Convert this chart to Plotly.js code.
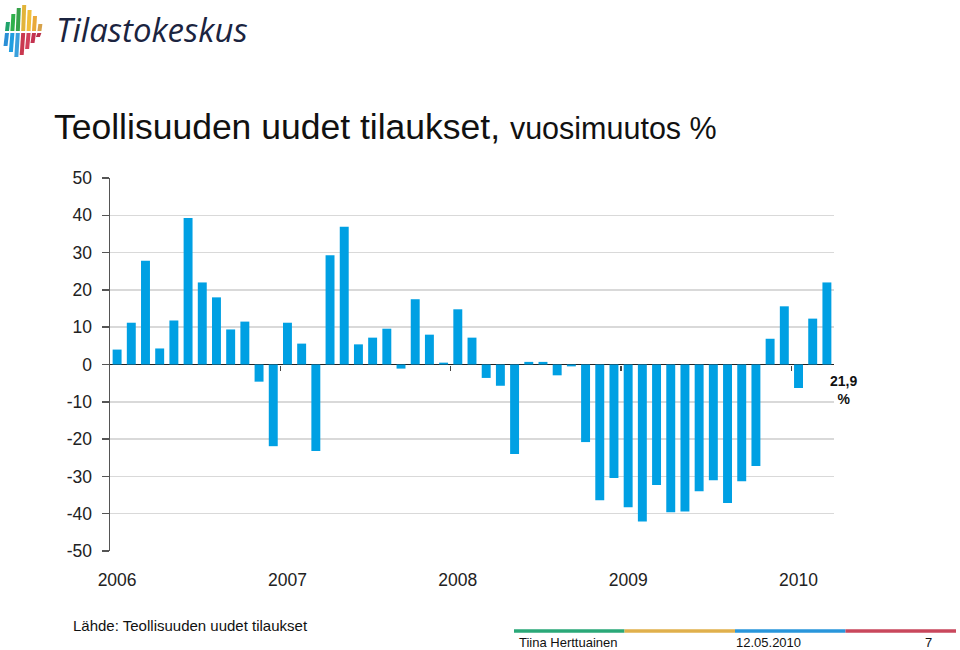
<!DOCTYPE html>
<html>
<head>
<meta charset="utf-8">
<script src="https://cdn.plot.ly/plotly-3.0.1.min.js"></script>
<style>
  html, body { margin: 0; padding: 0; background: #fff; }
  #chart { width: 960px; height: 650px; }
</style>
</head>
<body>
<div id="chart"></div>
<script>
// vuosimuutos %, kuukausittain 1/2006 - 3/2010
const changes = [
  4.0, 11.2, 27.8, 4.3, 11.8, 39.3, 22.0, 18.0, 9.4, 11.5, -4.6, -21.9,
  11.2, 5.6, -23.2, 29.3, 36.9, 5.4, 7.2, 9.6, -1.1, 17.5, 8.0, 0.5,
  14.8, 7.2, -3.6, -5.7, -24.0, 0.7, 0.7, -2.9, -0.5, -20.8, -36.4, -30.4,
  -38.3, -42.1, -32.3, -39.6, -39.4, -34.0, -31.0, -37.1, -31.3, -27.2, 6.9, 15.6,
  -6.3, 12.3, 22.0
]
const years = ['2006', '2007', '2008', '2009', '2010']
const yTicks = [50, 40, 30, 20, 10, 0, -10, -20, -30, -40, -50]
const yTickText = ['50', '40', '30', '20', '10', '0', '-10', '-20', '-30', '-40', '-50']
const lastLabel = '21,9<br>%'

const monthIdx = changes.map((v, i) => i)
const yearStart = years.map((y, i) => i * 12)
const yearBoundary = years.slice(1).map((y, i) => (i + 1) * 12 - 0.5)

// plot area in pixels, used to place things outside it
const L = 110, R = 834, T = 178, B = 551
const px = x => (x - L) / (R - L)
const py = y => (B - y) / (B - T)

const font = 'Arial, "Liberation Sans", sans-serif'

const bars = {
  x: monthIdx,
  y: changes,
  type: 'bar',
  width: 0.63,
  marker: { color: '#00a0e3' },
  hoverinfo: 'y'
}

// dummy trace for the year ticks on the zero line
const tickAxis = {
  x: [0],
  y: [0],
  xaxis: 'x2',
  type: 'scatter',
  mode: 'none',
  showlegend: false,
  hoverinfo: 'skip'
}

// logo stripes
const logoShapes = []
const stripeColorsTop = ['#1fa36b', '#2fb04a', '#37a24a', '#e2b43a', '#f0bf3c', '#e9a93a', '#d7a24a']
const stripeColorsBot = ['#2b8fd6', '#1f9ee0', '#3aa0dc', '#c9384f', '#d2405a', '#c43350', '#b9314c']
for (let i = 0; i < 7; i++) {
  const x0 = 4 + i * 5.4
  const topY = [22, 14, 8, 5, 10, 16, 24][i]
  const botY = [46, 52, 57, 55, 49, 43, 37][i]
  logoShapes.push({
    type: 'path', xref: 'paper', yref: 'paper', line: { width: 0 },
    fillcolor: stripeColorsTop[i],
    path: `M ${px(x0 + 2)} ${py(topY)} L ${px(x0 + 6)} ${py(topY)} L ${px(x0 + 5)} ${py(31)} L ${px(x0 + 1)} ${py(31)} Z`
  })
  logoShapes.push({
    type: 'path', xref: 'paper', yref: 'paper', line: { width: 0 },
    fillcolor: stripeColorsBot[i],
    path: `M ${px(x0 + 1)} ${py(33)} L ${px(x0 + 5)} ${py(33)} L ${px(x0 + 3.5)} ${py(botY)} L ${px(x0 - 0.5)} ${py(botY)} Z`
  })
}

const footerColors = ['#2aa878', '#e0b04c', '#2996db', '#c9475c']
const footerShapes = footerColors.map((c, i) => ({
  type: 'line', xref: 'paper', yref: 'paper',
  x0: px(514 + i * 110.5), x1: px(514 + (i + 1) * 110.5),
  y0: py(631), y1: py(631),
  line: { color: c, width: 3.5 }
}))

const layout = {
  width: 960,
  height: 650,
  margin: { l: L, r: 960 - R, t: T, b: 650 - B },
  paper_bgcolor: '#fff',
  plot_bgcolor: '#fff',
  showlegend: false,
  font: { family: font, color: '#222', size: 17 },
  title: {
    text: 'Teollisuuden uudet tilaukset, <span style="font-size:30.5px">vuosimuutos %</span>',
    font: { family: font, size: 35.5, color: '#111' },
    xref: 'container', yref: 'container',
    x: 54 / 960, xanchor: 'left',
    y: 1 - 127 / 650, yanchor: 'middle'
  },
  xaxis: {
    range: [-0.5, changes.length - 0.5],
    tickmode: 'array',
    tickvals: yearStart,
    ticktext: years,
    ticks: '',
    showgrid: false,
    showline: false,
    zeroline: false,
    ticklabelstandoff: 16,
    tickfont: { size: 17.5, color: '#222' },
    fixedrange: true
  },
  xaxis2: {
    overlaying: 'x',
    anchor: 'free',
    position: 0.5,
    side: 'bottom',
    range: [-0.5, changes.length - 0.5],
    tickmode: 'array',
    tickvals: yearBoundary,
    ticks: 'outside',
    ticklen: 5,
    tickwidth: 1.5,
    tickcolor: '#444',
    showticklabels: false,
    showgrid: false,
    showline: false,
    zeroline: false
  },
  yaxis: {
    range: [-50, 50],
    tickmode: 'array',
    tickvals: yTicks,
    ticktext: yTickText,
    ticks: 'outside',
    ticklen: 7,
    tickwidth: 1.5,
    tickcolor: '#555',
    showline: true,
    linecolor: '#555',
    linewidth: 1.5,
    gridcolor: '#d9d9d9',
    gridwidth: 1.5,
    zeroline: true,
    zerolinecolor: '#222',
    zerolinewidth: 1.5,
    tickfont: { size: 17.5, color: '#222' },
    ticklabelstandoff: 6,
    fixedrange: true
  },
  shapes: logoShapes.concat(footerShapes),
  annotations: [
    {
      text: '<i>Tilastokeskus</i>',
      xref: 'paper', yref: 'paper',
      x: px(54), y: py(30), xanchor: 'left', yanchor: 'middle',
      showarrow: false,
      font: { family: '"Open Sans", sans-serif', size: 33, color: '#1b2440' }
    },
    {
      text: '<b>' + lastLabel + '</b>',
      xref: 'paper', yref: 'paper',
      x: px(844), y: py(390), xanchor: 'center', yanchor: 'middle',
      showarrow: false,
      font: { family: font, size: 14, color: '#111' }
    },
    {
      text: 'Lähde: Teollisuuden uudet tilaukset',
      xref: 'paper', yref: 'paper',
      x: px(71), y: py(625), xanchor: 'left', yanchor: 'middle',
      showarrow: false,
      font: { family: font, size: 15, color: '#111' }
    },
    {
      text: 'Tiina Herttuainen',
      xref: 'paper', yref: 'paper',
      x: px(517), y: py(642), xanchor: 'left', yanchor: 'middle',
      showarrow: false,
      font: { family: font, size: 13, color: '#111' }
    },
    {
      text: '12.05.2010',
      xref: 'paper', yref: 'paper',
      x: px(734), y: py(642), xanchor: 'left', yanchor: 'middle',
      showarrow: false,
      font: { family: font, size: 13, color: '#111' }
    },
    {
      text: '7',
      xref: 'paper', yref: 'paper',
      x: px(928), y: py(642), xanchor: 'center', yanchor: 'middle',
      showarrow: false,
      font: { family: font, size: 13, color: '#111' }
    }
  ]
}

Plotly.newPlot('chart', [bars, tickAxis], layout, { displayModeBar: false, staticPlot: true })
</script>
</body>
</html>
